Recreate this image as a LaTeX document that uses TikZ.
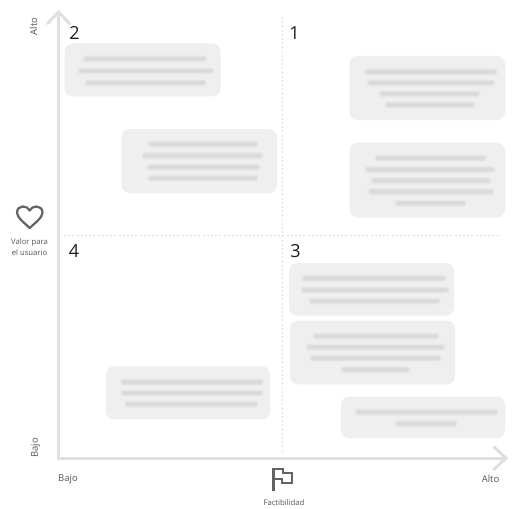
\documentclass[tikz,border=0pt]{standalone}
\usepackage{fontspec}
\setmainfont{Open Sans}
\definecolor{axisgray}{HTML}{E0E0E0}
\definecolor{dotgray}{HTML}{DDDDDD}
\definecolor{boxgray}{HTML}{EFEFEF}
\definecolor{iconink}{HTML}{636363}
\definecolor{labelink}{HTML}{555555}
\definecolor{numink}{HTML}{1E1E1E}
\definecolor{smudge}{HTML}{B0B0B0}
\newcommand{\smudgeline}[3]{%
  \draw[smudge,line cap=round,line width=8,opacity=.05] (#1,#3) -- (#2,#3);
  \draw[smudge,line cap=round,line width=6.5,opacity=.07] (#1,#3) -- (#2,#3);
  \draw[smudge,line cap=round,line width=5,opacity=.08] (#1,#3) -- (#2,#3);
  \draw[smudge,line cap=round,line width=3.5,opacity=.08] (#1,#3) -- (#2,#3);
  \draw[smudge,line cap=round,line width=2,opacity=.08] (#1,#3) -- (#2,#3);
}
\newcommand{\cardbox}[5]{%
  \node[card,minimum width=#4-#2,minimum height=#5-#3] (#1) at ({(#2+#4)/2},{(#3+#5)/2}) {};
}
\tikzset{
  card/.style={fill=boxgray,rounded corners=8,inner sep=0pt,draw=none},
  axisline/.style={draw=axisgray,line width=3,line join=miter},
  arrowwing/.style={draw=axisgray,line width=3,line cap=round,line join=miter},
  quarter/.style={draw=dotgray,line width=.8,dash pattern=on 2 off 2.2},
  numlabel/.style={text=numink,font=\fontsize{18}{20}\selectfont,inner sep=0pt},
  axistext/.style={text=labelink,font=\fontsize{9.5}{12}\selectfont,inner sep=0pt},
  smalltext/.style={text=labelink,font=\fontsize{7.7}{11}\selectfont,inner sep=0pt,align=center},
  icon/.style={draw=iconink,line width=2.2,line join=miter},
}
\begin{document}
\begin{tikzpicture}[x=1pt,y=-1pt]
\useasboundingbox (0,0) rectangle (532,508);
\fill[white] (0,0) rectangle (532,508);
% quadrant guides
\coordinate (vtop) at (282,17);
\coordinate (vbot) at (282,452);
\coordinate (hleft) at (64,235.5);
\coordinate (hright) at (500,235.5);
\draw[quarter] (vtop) -- (vbot);
\draw[quarter] (hleft) -- (hright);
% axes
\coordinate (origin) at (58.5,458);
\coordinate (ytip) at (58.5,12);
\coordinate (xtip) at (506,458);
\draw[axisline] (ytip) -- (origin) -- (xtip);
\draw[arrowwing] (47.5,23.5) -- (ytip) -- (69.5,23.5);
\draw[arrowwing] (494,447) -- (xtip) -- (494,469.5);
% cards
\cardbox{cardA}{64.5}{43.5}{220.5}{96.5}
\cardbox{cardB}{121.5}{129}{277}{193}
\cardbox{cardC}{349.5}{56}{505}{120}
\cardbox{cardD}{349.5}{142.5}{505}{217.5}
\cardbox{cardE}{289}{263}{454}{315.7}
\cardbox{cardF}{290}{320.7}{455}{384.3}
\cardbox{cardG}{341}{396.7}{505}{438}
\cardbox{cardH}{106}{366.3}{270}{419.3}
% unreadable card texts
\smudgeline{86}{204}{59}
\smudgeline{81}{211}{71}
\smudgeline{88}{203}{83}
\smudgeline{151}{255}{144}
\smudgeline{145}{260}{155.5}
\smudgeline{150}{257}{167}
\smudgeline{151}{255}{178}
\smudgeline{367}{494}{72}
\smudgeline{370}{492}{83}
\smudgeline{382}{477}{94}
\smudgeline{388}{472}{105}
\smudgeline{378}{483}{158}
\smudgeline{368}{492}{169.5}
\smudgeline{374}{488}{180.5}
\smudgeline{371}{491}{191.5}
\smudgeline{398}{463}{203}
\smudgeline{305}{443}{278.3}
\smudgeline{304}{446}{290}
\smudgeline{312}{437}{301}
\smudgeline{316}{436}{336}
\smudgeline{309}{442}{347}
\smudgeline{313}{438}{358}
\smudgeline{344}{407}{369.5}
\smudgeline{358}{495}{412}
\smudgeline{398}{454}{423.5}
\smudgeline{124}{260}{382}
\smudgeline{124}{260}{393}
\smudgeline{128}{255}{404}
% quadrant numbers
\node[numlabel] (n2) at (74.5,32.5) {2};
\node[numlabel] (n1) at (294.5,33) {1};
\node[numlabel] (n4) at (74,251.5) {4};
\node[numlabel] (n3) at (295.5,251.5) {3};
% axis labels
\node[axistext,rotate=90] (yhigh) at (33.5,26.5) {Alto};
\node[axistext,rotate=90] (ylow) at (35.5,448) {Bajo};
\node[axistext] (xlow) at (68,479) {Bajo};
\node[axistext] (xhigh) at (490.5,479) {Alto};
\node[smalltext] (yname) at (29.5,247.5) {Valor para\\el usuario};
\node[smalltext] (xname) at (284,503) {Factibilidad};
% heart icon
\draw[icon,line join=round] (29.7,228)
  .. controls (24,222.5) and (17,217.5) .. (17,212.5)
  .. controls (17,208.5) and (20,206.5) .. (23,206.5)
  .. controls (26,206.5) and (28.5,208) .. (29.7,210.5)
  .. controls (31,208) and (33.5,206.5) .. (36.5,206.5)
  .. controls (39.5,206.5) and (42.5,208.5) .. (42.5,212.5)
  .. controls (42.5,217.5) and (35.5,222.5) .. (29.7,228) -- cycle;
% flag icon
\draw[icon] (273.5,491) -- (273.5,469) -- (283,469) -- (283,473) -- (292,473) -- (292,483) -- (282,483) -- (282,479) -- (273.5,479);
\end{tikzpicture}
\end{document}
